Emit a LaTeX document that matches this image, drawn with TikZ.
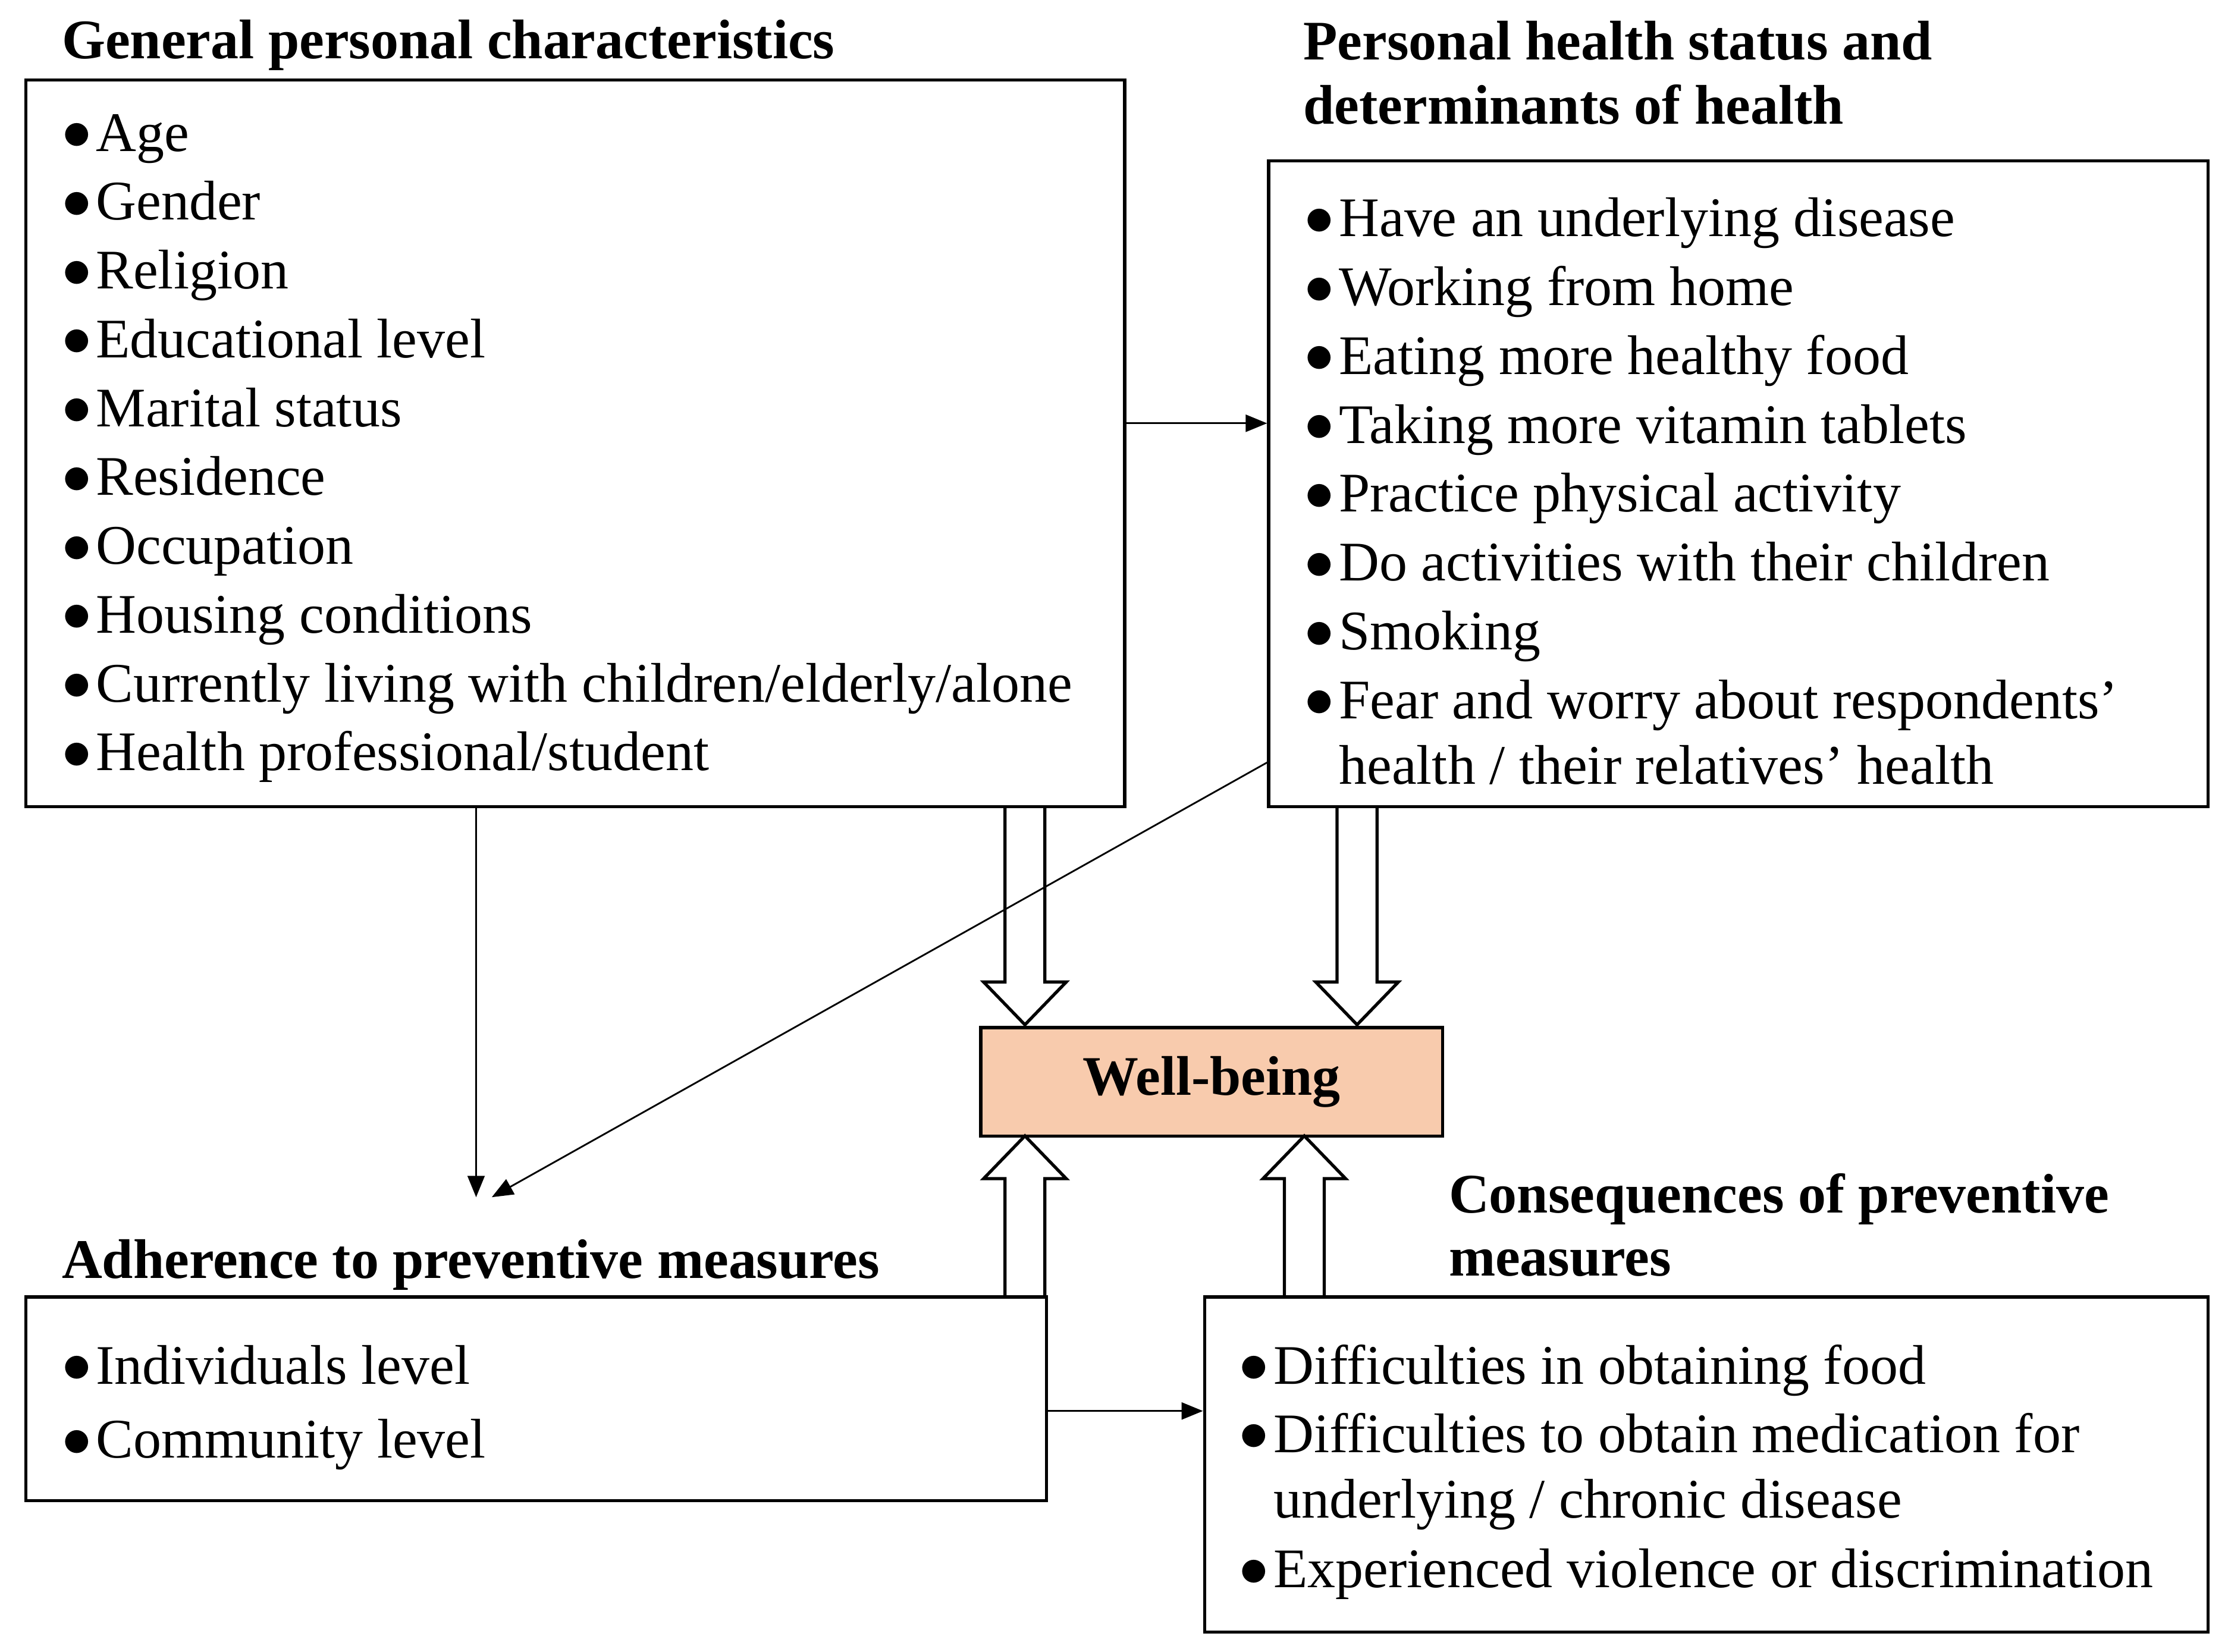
\documentclass[tikz,border=0pt]{standalone}
\usepackage{fontspec}
\setmainfont{Liberation Serif}
\usetikzlibrary{fit,arrows.meta,calc}
\newcommand{\bul}{\makebox[12pt][l]{\raisebox{0.5pt}{$\bullet$}}}
\begin{document}
\begin{tikzpicture}[x=0.5pt,y=-0.5pt,
  box/.style={draw,line width=1.1pt,inner sep=0pt},
  txt/.style={anchor=base west,inner sep=0pt,font=\fontsize{19.6}{24}\selectfont},
  head/.style={txt,font=\fontsize{19.6}{24}\selectfont\bfseries},
  thin/.style={line width=0.6pt,-{Triangle[length=7.5pt,width=6pt]}},
  hollow/.style={draw,line width=1.1pt,line join=miter}]
\useasboundingbox (0,0) rectangle (1563,1159);
\coordinate (a1) at (18,56); \coordinate (a2) at (789,566);
\node[box,fit=(a1)(a2)] (b1) {};
\coordinate (c1) at (890,113); \coordinate (c2) at (1549,566);
\node[box,fit=(c1)(c2)] (b2) {};
\coordinate (d1) at (18,910); \coordinate (d2) at (734,1053);
\node[box,fit=(d1)(d2)] (b3) {};
\coordinate (e1) at (845,910); \coordinate (e2) at (1549,1145);
\node[box,fit=(e1)(e2)] (b4) {};
\coordinate (w1) at (688,721); \coordinate (w2) at (1012,797);
\node[box,fit=(w1)(w2),fill={rgb,255:red,248;green,203;blue,173}] (wb) {};
\node[font=\fontsize{19.6}{24}\selectfont\bfseries] (wbt) at (wb.center) {Well-being};
% headings
\node[head] (h1) at (43,41) {General personal characteristics};
\node[head] (h2a) at (914,42) {Personal health status and};
\node[head] (h2b) at (914,87) {determinants of health};
\node[head] (h3) at (43,897) {Adherence to preventive measures};
\node[head] (h4a) at (1016,851) {Consequences of preventive};
\node[head] (h4b) at (1016,895) {measures};
% bullets
\foreach \t [count=\i from 0] in {Age,Gender,Religion,Educational level,Marital status,Residence,Occupation,Housing conditions,Currently living with children/elderly/alone,Health professional/student}{
  \node[txt] (p\i) at (43,{106+48.3*\i}) {\bul\t};}
\foreach \t [count=\i from 0] in {Have an underlying disease,Working from home,Eating more healthy food,Taking more vitamin tablets,Practice physical activity,Do activities with their children,Smoking,Fear and worry about respondents’}{
  \node[txt] (q\i) at (915,{166+48.3*\i}) {\bul\t};}
\node[txt] (q8) at (939,550) {health / their relatives’ health};
\node[txt] (r0) at (43,971) {\bul Individuals level};
\node[txt] (r1) at (43,1023) {\bul Community level};
\node[txt] (s0) at (869,971) {\bul Difficulties in obtaining food};
\node[txt] (s1) at (869,1019) {\bul Difficulties to obtain medication for};
\node[txt] (s2) at (893,1065) {underlying / chronic disease};
\node[txt] (s3) at (869,1114) {\bul Experienced violence or discrimination};
% thin connectors
\coordinate (t1) at (334,840); \coordinate (t2) at (345,840);
\draw[thin] (b1.east |- 0,297) -- (b2.west |- 0,297);
\draw[thin] (b1.south -| t1) -- (t1);
\draw[thin] (b2.west |- 0,535) -- (t2);
\draw[thin] (b3.east |- 0,990) -- (b4.west |- 0,990);
% hollow arrows
\draw[hollow] (705,566) -- (705,689) -- (690,689) -- (719,719) -- (748,689) -- (733,689) -- (733,566);
\draw[hollow] (938,566) -- (938,689) -- (923,689) -- (952,719) -- (981,689) -- (966,689) -- (966,566);
\draw[hollow] (705,910) -- (705,827) -- (690,827) -- (719,797) -- (748,827) -- (733,827) -- (733,910);
\draw[hollow] (901,910) -- (901,827) -- (886,827) -- (915,797) -- (944,827) -- (929,827) -- (929,910);
\end{tikzpicture}
\end{document}
